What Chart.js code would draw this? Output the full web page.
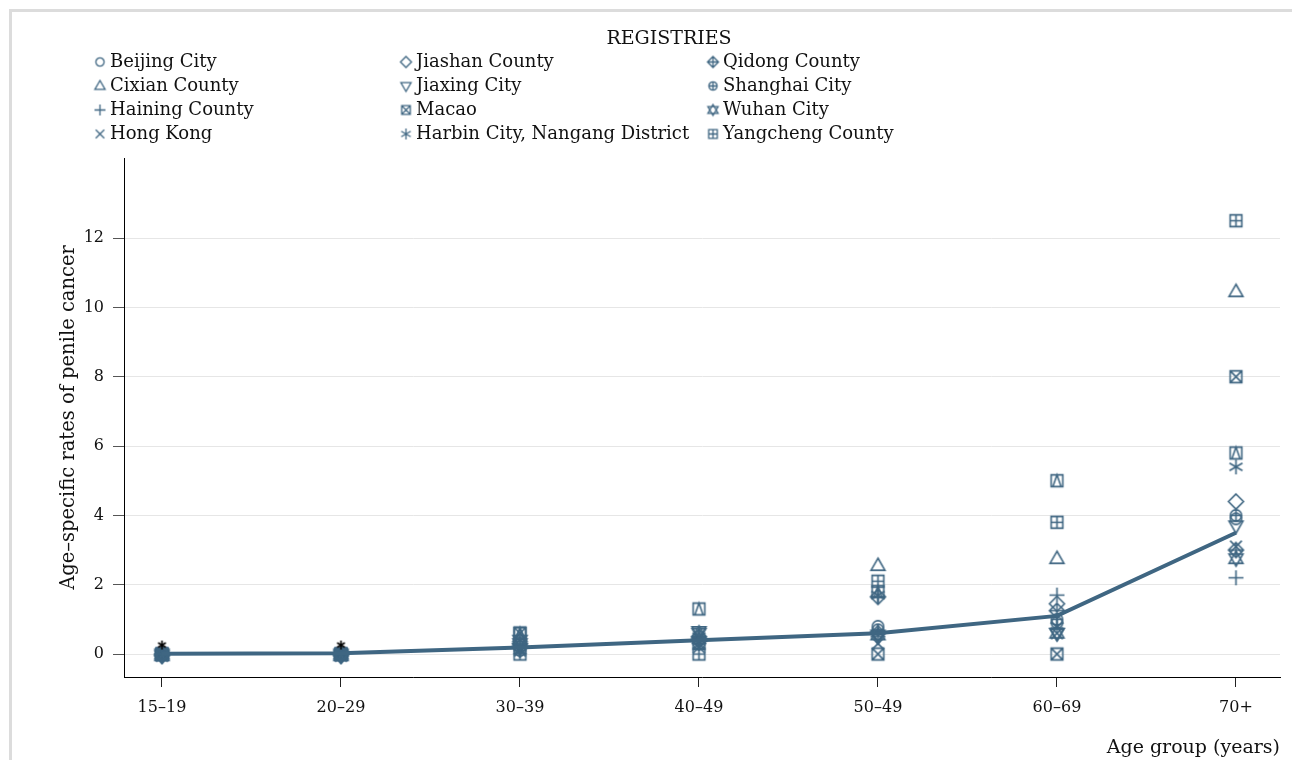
<!DOCTYPE html>
<html>
<head>
<meta charset="utf-8">
<script src="https://cdn.jsdelivr.net/npm/chart.js@4/dist/chart.umd.min.js"></script>
<style>
  html, body { margin: 0; padding: 0; background: #fff; }
  #frame { position: absolute; left: 9px; top: 9px; width: 1283px; height: 751px;
           border-top: 3px solid #dcdcdc; border-left: 3px solid #dcdcdc; box-sizing: border-box; }
  #chart { position: absolute; left: 0; top: 0; }
</style>
</head>
<body>
<div id="frame"></div>
<canvas id="chart" width="1292" height="760"></canvas>
<script>
// Age groups on the x axis
const ageGroups = ["15–19", "20–29", "30–39", "40–49", "50–49", "60–69", "70+"];
const yTicks = [0, 2, 4, 6, 8, 10, 12];

// Age-specific rates per registry
const beijing   = [0, 0, 0.2, 0.4, 0.8, 0.9, 3.9];
const cixian    = [0, 0, 0.5, 0.5, 2.55, 2.75, 10.45];
const haining   = [0, 0, 0.2, 0.3, 0.5, 1.7, 2.2];
const hongKong  = [-0.05, -0.05, 0.1, 0.2, 0.3, 0.6, 3.1];
const jiashan   = [0, 0, 0.2, 0.4, 0.6, 1.45, 4.4];
const jiaxing   = [0, 0, 0.3, 0.65, 0.5, 0.6, 3.7];
const macao     = [0, 0, 0.6, 0.3, 0, 0, 8.0];
const harbin    = [0, 0, 0.1, 0.5, 1.7, 0.8, 5.4];
const qidong    = [-0.05, -0.05, 0.3, 0.5, 1.65, 1.25, 3.0];
const shanghai  = [0, 0, 0.1, 0.3, 0.7, 1.0, 4.0];
const wuhan     = [-0.05, -0.05, 0.4, 0.6, 0.55, 0.6, 2.75];
const yangcheng = [0, 0, 0, 0, 2.1, 3.8, 12.5];
const unlabeled = [0, 0, 0.6, 1.3, 1.8, 5.0, 5.8];
// overall line and the two black marks at the youngest groups
const overall   = [0.01, 0.02, 0.19, 0.4, 0.6, 1.1, 3.5];
const starMarks = [0.26, 0.26];

const registries = [
  { name: "Beijing City", marker: "circle", data: beijing },
  { name: "Cixian County", marker: "triangle", data: cixian },
  { name: "Haining County", marker: "plus", data: haining },
  { name: "Hong Kong", marker: "cross", data: hongKong },
  { name: "Jiashan County", marker: "diamond", data: jiashan },
  { name: "Jiaxing City", marker: "nabla", data: jiaxing },
  { name: "Macao", marker: "sqx", data: macao },
  { name: "Harbin City, Nangang District", marker: "asterisk", data: harbin },
  { name: "Qidong County", marker: "dplus", data: qidong },
  { name: "Shanghai City", marker: "cplus", data: shanghai },
  { name: "Wuhan City", marker: "hexagram", data: wuhan },
  { name: "Yangcheng County", marker: "sqplus", data: yangcheng },
];

const blue = "#3f6682";
const serif = '"DejaVu Serif", "Liberation Serif", serif';

// draw a hollow marker glyph on a small canvas
function makeMarker(kind, size, color, lw) {
  const w = Math.ceil(size + 4);
  const c = document.createElement("canvas");
  c.width = w; c.height = w;
  const g = c.getContext("2d");
  g.strokeStyle = color;
  g.lineWidth = lw;
  g.translate(w / 2, w / 2);
  const r = size / 2;
  const s = r * 0.78;
  g.beginPath();
  const tri = (k) => { g.moveTo(0, -r * k); g.lineTo(r * 0.93, r * 0.62 * k); g.lineTo(-r * 0.93, r * 0.62 * k); g.closePath(); };
  const plus = (k) => { g.moveTo(-k, 0); g.lineTo(k, 0); g.moveTo(0, -k); g.lineTo(0, k); };
  const diam = (k) => { g.moveTo(0, -k); g.lineTo(k, 0); g.lineTo(0, k); g.lineTo(-k, 0); g.closePath(); };
  switch (kind) {
    case "circle": g.arc(0, 0, r * 0.75, 0, Math.PI * 2); break;
    case "triangle": tri(1); break;
    case "nabla": tri(-1); break;
    case "plus": plus(r); break;
    case "cross": g.moveTo(-s, -s); g.lineTo(s, s); g.moveTo(s, -s); g.lineTo(-s, s); break;
    case "diamond": diam(r); break;
    case "sqx": g.rect(-s, -s, 2 * s, 2 * s); g.moveTo(-s, -s); g.lineTo(s, s); g.moveTo(s, -s); g.lineTo(-s, s); break;
    case "sqplus": g.rect(-s, -s, 2 * s, 2 * s); plus(s); break;
    case "sqtri": g.rect(-s, -s, 2 * s, 2 * s); g.moveTo(0, -s); g.lineTo(s * 0.7, s); g.lineTo(-s * 0.7, s); g.closePath(); break;
    case "asterisk":
      for (let a = 0; a < 3; a++) {
        const t = Math.PI / 2 + a * Math.PI / 3;
        g.moveTo(Math.cos(t) * r, Math.sin(t) * r);
        g.lineTo(-Math.cos(t) * r, -Math.sin(t) * r);
      }
      break;
    case "cplus": g.arc(0, 0, r * 0.75, 0, Math.PI * 2); plus(r * 0.75); break;
    case "dplus": diam(r); plus(r); break;
    case "hexagram": tri(1); tri(-1); break;
  }
  g.stroke();
  return c;
}

const datasets = [
  {
    data: overall.map((v, i) => ({ x: i, y: v })),
    showLine: true, borderColor: blue, borderWidth: 4, pointRadius: 0, tension: 0,
  },
  {
    data: starMarks.map((v, i) => ({ x: i, y: v })),
    pointStyle: makeMarker("asterisk", 9, "#000", 1.6), pointRadius: 5,
  },
];
registries.forEach((r) => {
  datasets.push({
    data: r.data.map((v, i) => ({ x: i, y: v })),
    pointStyle: makeMarker(r.marker, 15, blue, 1.6),
    pointRadius: 7,
  });
  r.legendMarker = makeMarker(r.marker, 11, blue, 1.3);
});
datasets.push({
  data: unlabeled.map((v, i) => ({ x: i, y: v })),
  pointStyle: makeMarker("sqtri", 15, blue, 1.6),
  pointRadius: 7,
});

// legend in three columns, filled column by column
const legendPlugin = {
  id: "registryLegend",
  afterDraw(chart) {
    const ctx = chart.ctx;
    ctx.save();
    ctx.fillStyle = "#111";
    ctx.textBaseline = "middle";
    ctx.textAlign = "center";
    ctx.font = "19px " + serif;
    ctx.fillText("REGISTRIES", 669, 39);
    ctx.font = "18px " + serif;
    ctx.textAlign = "left";
    const colX = [100, 406, 713];
    registries.forEach((r, i) => {
      const col = Math.floor(i / 4), row = i % 4;
      const x = colX[col], y = 62 + row * 24;
      const m = r.legendMarker;
      ctx.drawImage(m, x - m.width / 2, y - m.height / 2);
      ctx.fillText(r.name, x + 10, y);
    });
    ctx.restore();
  },
};

new Chart(document.getElementById("chart"), {
  type: "scatter",
  data: { datasets },
  plugins: [legendPlugin],
  options: {
    responsive: false,
    animation: false,
    layout: { padding: { top: 158, right: 12, left: 0, bottom: 0 } },
    plugins: { legend: { display: false }, tooltip: { enabled: false } },
    scales: {
      x: {
        type: "linear",
        min: -0.212,
        max: 6.246,
        afterBuildTicks: (scale) => { scale.ticks = ageGroups.map((_, i) => ({ value: i })); },
        afterFit: (scale) => { scale.height = 83; },
        ticks: {
          callback: (v) => ageGroups[v],
          color: "#111",
          font: { family: serif, size: 16 },
          padding: 11,
          maxRotation: 0,
        },
        grid: { drawOnChartArea: false, tickLength: 10, tickColor: "#222" },
        border: { color: "#000", width: 1 },
        title: {
          display: true,
          text: "Age group (years)",
          align: "end",
          color: "#111",
          font: { family: serif, size: 19 },
          padding: { top: 0, bottom: 1 },
        },
      },
      y: {
        min: -0.663,
        max: 14.31,
        afterBuildTicks: (scale) => { scale.ticks = yTicks.map((v) => ({ value: v })); },
        afterFit: (scale) => { scale.width = 124; },
        ticks: {
          color: "#111",
          font: { family: serif, size: 16 },
          padding: 9,
        },
        grid: { color: "#e6e6e6", tickLength: 11, tickColor: "#555" },
        border: { color: "#000", width: 1 },
        title: {
          display: true,
          text: "Age–specific rates of penile cancer",
          color: "#111",
          font: { family: serif, size: 19.5 },
          padding: { top: 57, bottom: 0 },
        },
      },
    },
  },
});
</script>
</body>
</html>
